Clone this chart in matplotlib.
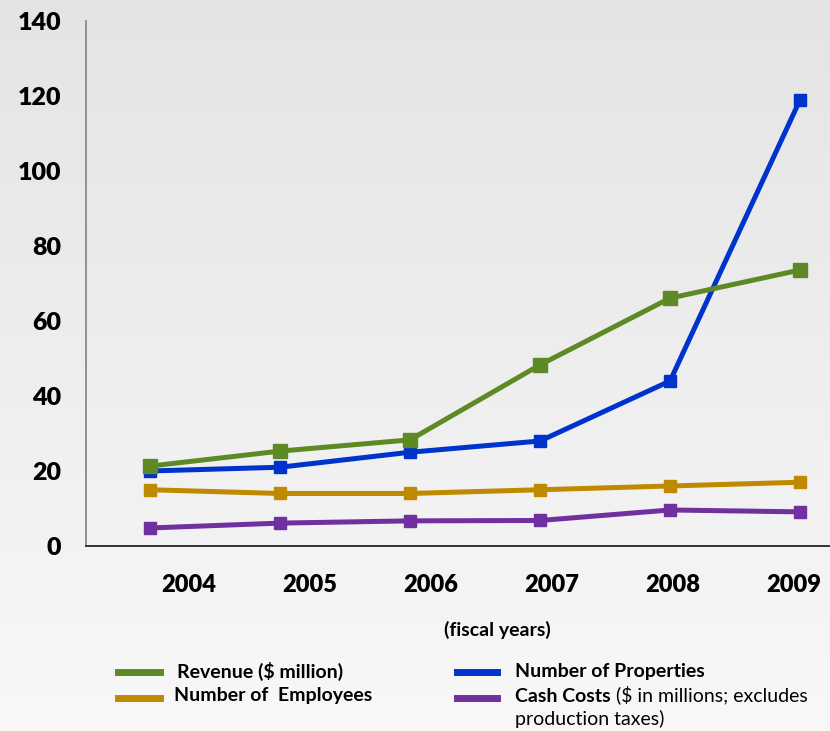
import numpy as np
import matplotlib.pyplot as plt

# data
years = ['2004', '2005', '2006', '2007', '2008', '2009']
revenue = [21.3, 25.3, 28.3, 48.3, 66.1, 73.6]
properties = [20, 21, 25, 28, 44, 119]
employees = [15, 14, 14, 15, 16, 17]
cash_costs = [4.8, 6.1, 6.7, 6.8, 9.6, 9.1]

c_green = '#5E8A26'
c_blue = '#0033CC'
c_gold = '#C08A00'
c_purple = '#7030A0'

plt.rcParams['font.family'] = ['Lato', 'DejaVu Sans']

fig = plt.figure(figsize=(8.3, 7.31), dpi=100)

# soft grey gradient background
bg = fig.add_axes([0, 0, 1, 1], zorder=-10)
grad = np.linspace(0, 1, 256).reshape(-1, 1)
bg.imshow(grad, aspect='auto', cmap=plt.matplotlib.colors.LinearSegmentedColormap.from_list(
    'bg', ['#e4e4e4', '#f8f8f8']), extent=[0, 1, 0, 1], origin='upper')
bg.axis('off')

ax = fig.add_axes([0.1036, 0.2531, 0.8964, 0.7182])
ax.patch.set_alpha(0)
x = np.arange(len(years))

ax.plot(x, cash_costs, color=c_purple, lw=3.6, marker='s', ms=9, zorder=3)
ax.plot(x, employees, color=c_gold, lw=3.6, marker='s', ms=9, zorder=3)
ax.plot(x, properties, color=c_blue, lw=3.6, marker='s', ms=9, zorder=4)
ax.plot(x, revenue, color=c_green, lw=3.6, marker='s', ms=10, zorder=5)

ax.set_xlim(-0.492, 5.23)
ax.set_ylim(0, 140)
ax.set_yticks(np.arange(0, 141, 20))
ax.tick_params(axis='y', length=0, pad=18, labelsize=18)
for lbl in ax.get_yticklabels():
    lbl.set_fontweight('heavy')

# year labels sit slightly off the data points, as in the original
ax.set_xticks(0.3 + 0.93 * x)
ax.set_xticklabels(years, fontsize=17, fontweight='heavy')
ax.tick_params(axis='x', length=0, pad=20)

for side in ['top', 'right']:
    ax.spines[side].set_visible(False)
ax.spines['left'].set_color('#8a8a8a')
ax.spines['left'].set_linewidth(1.3)
ax.spines['bottom'].set_color('#333333')
ax.spines['bottom'].set_linewidth(1.4)

fig.text(497 / 830, 1 - 630 / 731, '(fiscal years)', ha='center', va='center',
         fontsize=14, fontweight='bold')

# custom legend
def fy(py):
    return 1 - py / 731

def swatch(x0, x1, py, color):
    fig.add_artist(plt.Line2D([x0 / 830, x1 / 830], [fy(py), fy(py)], color=color, lw=5))

swatch(118, 160, 672, c_green)
swatch(118, 160, 698, c_gold)
swatch(457, 497, 672, c_blue)
swatch(457, 497, 698, c_purple)

fs = 14
fig.text(177 / 830, fy(671), 'Revenue ($ million)', fontsize=fs, fontweight='bold', va='center')
fig.text(174 / 830, fy(696), 'Number of  Employees', fontsize=fs, fontweight='bold', va='center')
fig.text(515 / 830, fy(671), 'Number of Properties', fontsize=fs, fontweight='bold', va='center')
t1 = fig.text(515 / 830, fy(696), 'Cash Costs', fontsize=fs, fontweight='bold', va='center')
fig.text(515 / 830, fy(719), 'production taxes)', fontsize=fs, va='center')
ax.annotate(' ($ in millions; excludes', xy=(1, 0), xycoords=t1, va='bottom', ha='left',
            fontsize=fs, annotation_clip=False)

fig.savefig('out.png', dpi=100)
